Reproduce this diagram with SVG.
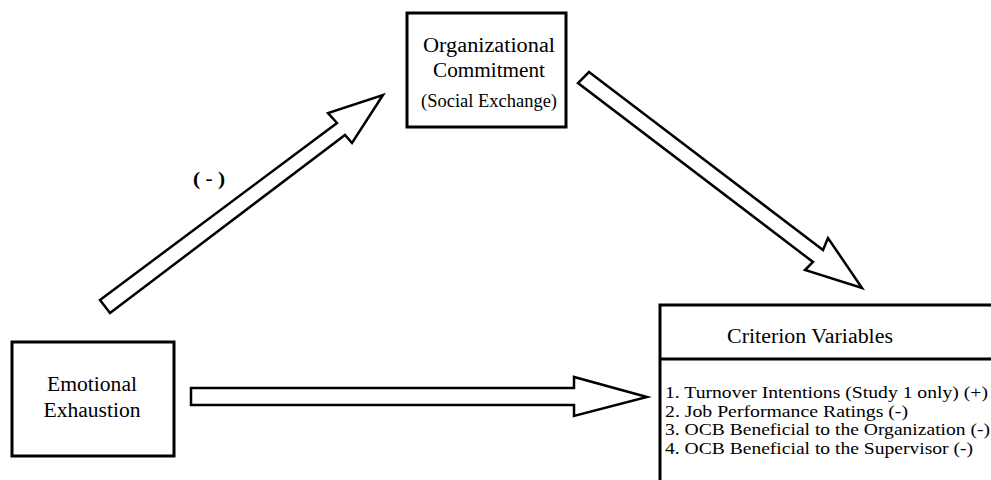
<svg xmlns="http://www.w3.org/2000/svg" width="991" height="480" viewBox="0 0 991 480" font-family="'Liberation Serif', 'Times New Roman', Tinos, 'DejaVu Serif', serif">
<style>
  .box { fill: #ffffff; stroke: #000000; stroke-width: 3; }
  .arrow { fill: #ffffff; stroke: #000000; stroke-width: 2.5; stroke-linejoin: miter; }
  text { font-family: 'Liberation Serif', 'Times New Roman', Tinos, 'DejaVu Serif', serif; fill: #000000; }
  .lg { font-size: 20.5px; }
  .md { font-size: 18px; }
  .sm { font-size: 17px; }
  .c { text-anchor: middle; }
</style>
<rect x="0" y="0" width="991" height="480" fill="#ffffff"/>
<g id="connectors">
  <polygon class="arrow" points="100,300 337,123 328,113 383,95 352,143 345,135 110,313"/>
  <polygon class="arrow" points="589,72 823,250 828,238 862,288 805,270 813,262 578,83"/>
  <polygon class="arrow" points="191,388 574,388 574,377 647,397 574,416 574,405 191,405"/>
  <text x="209" y="185" class="c" style="font-size:19px;font-weight:bold" textLength="32" lengthAdjust="spacingAndGlyphs">( - )</text>
</g>
<g id="org-commitment">
  <rect class="box" x="407" y="13" width="159" height="114"/>
  <text class="lg c" x="489" y="52" textLength="132" lengthAdjust="spacingAndGlyphs">Organizational</text>
  <text class="lg c" x="489" y="77" textLength="112" lengthAdjust="spacingAndGlyphs">Commitment</text>
  <text class="md c" x="489" y="107" textLength="136" lengthAdjust="spacingAndGlyphs">(Social Exchange)</text>
</g>
<g id="emotional-exhaustion">
  <rect class="box" x="12" y="342" width="162" height="114"/>
  <text class="lg c" x="92" y="391" textLength="90" lengthAdjust="spacingAndGlyphs">Emotional</text>
  <text class="lg c" x="92" y="417" textLength="97" lengthAdjust="spacingAndGlyphs">Exhaustion</text>
</g>
<g id="criterion-variables">
  <rect class="box" x="660" y="305" width="345" height="200"/>
  <line x1="660" y1="359" x2="991" y2="359" stroke="#000000" stroke-width="3"/>
  <text class="lg" x="727" y="343" textLength="166" lengthAdjust="spacingAndGlyphs">Criterion Variables</text>
  <text class="sm" x="665" y="398" textLength="323" lengthAdjust="spacingAndGlyphs">1. Turnover Intentions (Study 1 only) (+)</text>
  <text class="sm" x="665" y="416.5" textLength="243" lengthAdjust="spacingAndGlyphs">2. Job Performance Ratings (-)</text>
  <text class="sm" x="665" y="435" textLength="325" lengthAdjust="spacingAndGlyphs">3. OCB Beneficial to the Organization (-)</text>
  <text class="sm" x="665" y="453.5" textLength="308" lengthAdjust="spacingAndGlyphs">4. OCB Beneficial to the Supervisor (-)</text>
</g>
</svg>
